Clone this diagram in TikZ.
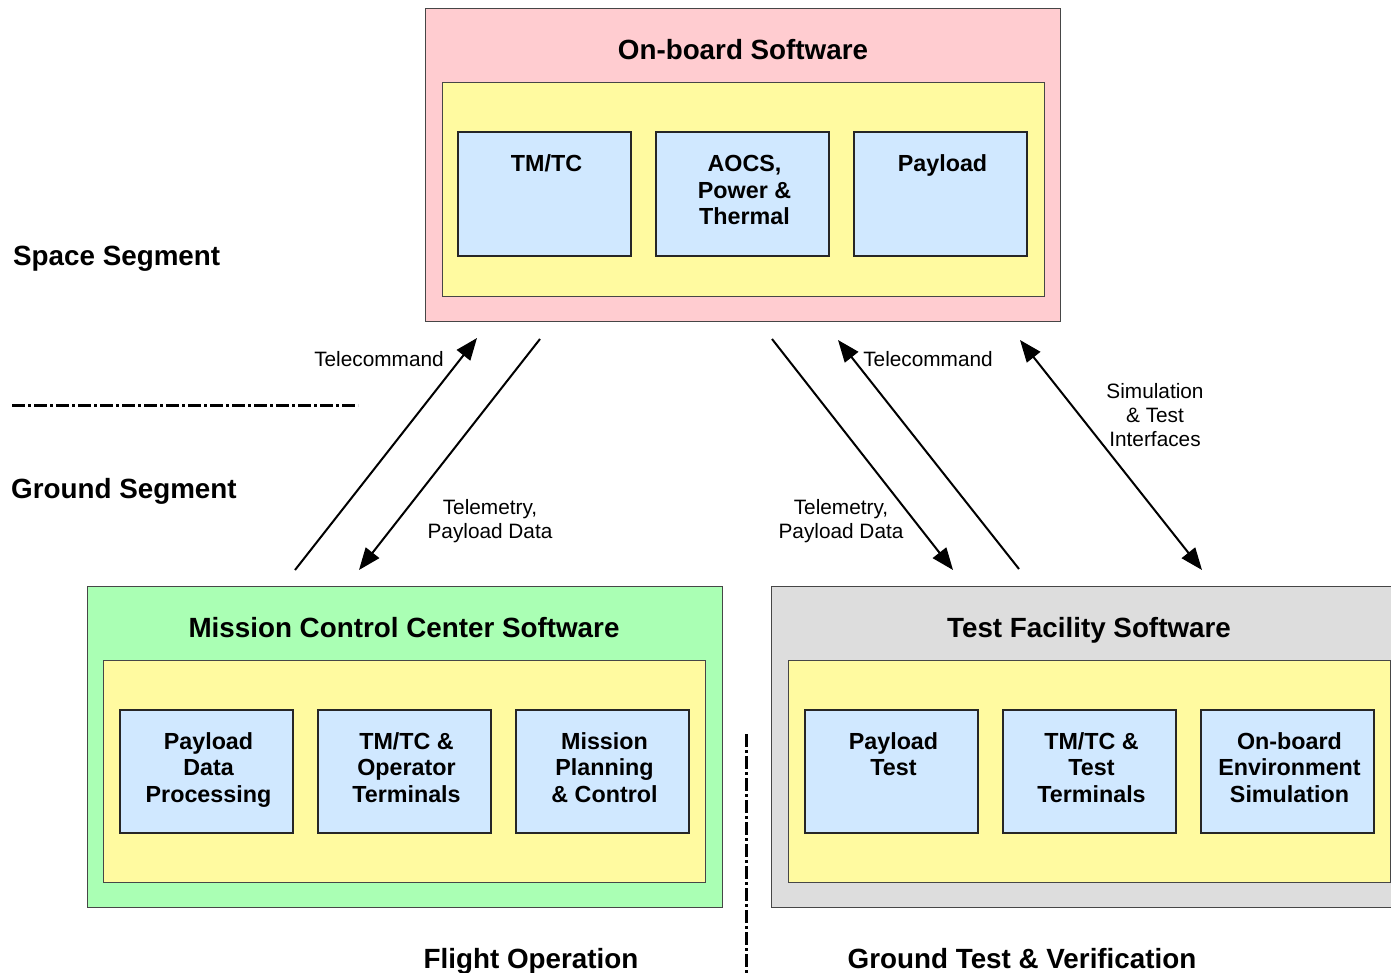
\documentclass[tikz,border=0pt]{standalone}
\usepackage{fontspec}
\setmainfont{Liberation Sans}
\usetikzlibrary{arrows.meta}
\definecolor{pinkbg}{RGB}{255,204,208}
\definecolor{yelbg}{RGB}{255,250,160}
\definecolor{greenbg}{RGB}{170,255,180}
\definecolor{graybg}{RGB}{221,221,221}
\definecolor{bluebg}{RGB}{208,232,255}
\definecolor{edgec}{RGB}{70,70,70}
\begin{document}
\begin{tikzpicture}[x=1pt,y=-1pt,
  box/.style={draw=edgec, line width=1pt, anchor=north west, inner sep=0, outer sep=0},
  outerbox/.style={box, minimum width=635, minimum height=321},
  innerbox/.style={box, fill=yelbg, minimum width=602, minimum height=222},
  unitbox/.style={box, draw=black!85, line width=1.2pt, fill=bluebg, minimum width=173, minimum height=123},
  ttl/.style={font=\fontsize{27.8}{33}\selectfont\bfseries, inner sep=0, anchor=base},
  sidel/.style={font=\fontsize{27.8}{33}\selectfont\bfseries, inner sep=0, anchor=base west},
  inl/.style={font=\fontsize{23.3}{26.5}\selectfont\bfseries, inner sep=0, anchor=base, align=center, xshift=2pt},
  lbl/.style={font=\fontsize{20.8}{24}\selectfont, inner sep=0, anchor=base, align=center},
  arr/.style={line width=2pt, -{Triangle[length=22pt,width=17pt]}},
  dblarr/.style={line width=2pt, {Triangle[length=22pt,width=17pt]}-{Triangle[length=22pt,width=17pt]}},
  sep/.style={line width=3pt, dash pattern=on 13pt off 3pt on 3pt off 3pt}
]
\useasboundingbox (0,0) rectangle (1391,973);
\clip (0,0) rectangle (1391,973);

% On-board software
\node[outerbox, fill=pinkbg, minimum height=313] (obsw) at (425,9) {};
\node[innerbox, minimum height=214] (obswin) at (442,83) {};
\node[unitbox, minimum height=124] (tmtc) at (458,132) {};
\node[unitbox, minimum height=124] (aocs) at (656,132) {};
\node[unitbox, minimum height=124] (payl) at (854,132) {};
\node[ttl] (obswt) at (743,60) {On-board Software};
\node[inl, yshift=-40pt] (tmtct) at (tmtc.north) {TM/TC};
\node[inl, yshift=-93pt] (aocst) at (aocs.north) {AOCS,\\Power \&\\Thermal};
\node[inl, yshift=-40pt] (paylt) at (payl.north) {Payload};

% Mission control center
\node[outerbox, fill=greenbg] (mcc) at (87,586) {};
\node[innerbox] (mccin) at (103,660) {};
\node[unitbox] (pdp) at (120,710) {};
\node[unitbox] (tmop) at (318,710) {};
\node[unitbox] (mpc) at (516,710) {};
\node[ttl] (mcct) at (404,637) {Mission Control Center Software};
\node[inl, yshift=-92pt] (pdpt) at (pdp.north) {Payload\\Data\\Processing};
\node[inl, yshift=-92pt] (tmopt) at (tmop.north) {TM/TC \&\\Operator\\Terminals};
\node[inl, yshift=-92pt] (mpct) at (mpc.north) {Mission\\Planning\\\& Control};

% Test facility
\node[outerbox, fill=graybg] (tfs) at (771,586) {};
\node[innerbox] (tfsin) at (788,660) {};
\node[unitbox] (ptest) at (805,710) {};
\node[unitbox] (tmtt) at (1003,710) {};
\node[unitbox] (oes) at (1201,710) {};
\node[ttl] (tfst) at (1089,637) {Test Facility Software};
\node[inl, yshift=-65.5pt] (ptestt) at (ptest.north) {Payload\\Test};
\node[inl, yshift=-92pt] (tmttt) at (tmtt.north) {TM/TC \&\\Test\\Terminals};
\node[inl, yshift=-92pt] (oest) at (oes.north) {On-board\\Environment\\Simulation};

% Side labels
\node[sidel] (space) at (13,266) {Space Segment};
\node[sidel] (ground) at (11,498) {Ground Segment};
\node[ttl] (flight) at (531,968) {Flight Operation};
\node[ttl] (gtv) at (1022,968) {Ground Test \& Verification};

% Separators
\coordinate (hs1) at (12,405);
\coordinate (hs2) at (358,405);
\coordinate (vs1) at (746,734);
\coordinate (vs2) at (746,975);
\draw[sep] (hs1) -- (hs2);
\draw[sep] (vs1) -- (vs2);

% Arrow end points
\coordinate (tcLa) at (295,570);
\coordinate (tcLb) at (477,338);
\coordinate (tmLa) at (540,339);
\coordinate (tmLb) at (359,570);
\coordinate (tmRa) at (772,339);
\coordinate (tmRb) at (953,570);
\coordinate (tcRa) at (1019,569);
\coordinate (tcRb) at (838,340);
\coordinate (siA) at (1020,340);
\coordinate (siB) at (1202,570);

\draw[arr] (tcLa) -- (tcLb);
\draw[arr] (tmLa) -- (tmLb);
\draw[arr] (tmRa) -- (tmRb);
\draw[arr] (tcRa) -- (tcRb);
\draw[dblarr] (siA) -- (siB);

% Arrow labels
\node[lbl] (tcLt) at (379,366) {Telecommand};
\node[lbl] (tmLt) at (490,538) {Telemetry,\\Payload Data};
\node[lbl] (tmRt) at (841,538) {Telemetry,\\Payload Data};
\node[lbl] (tcRt) at (928,366) {Telecommand};
\node[lbl] (sit) at (1155,446) {Simulation\\\& Test\\Interfaces};
\end{tikzpicture}
\end{document}
